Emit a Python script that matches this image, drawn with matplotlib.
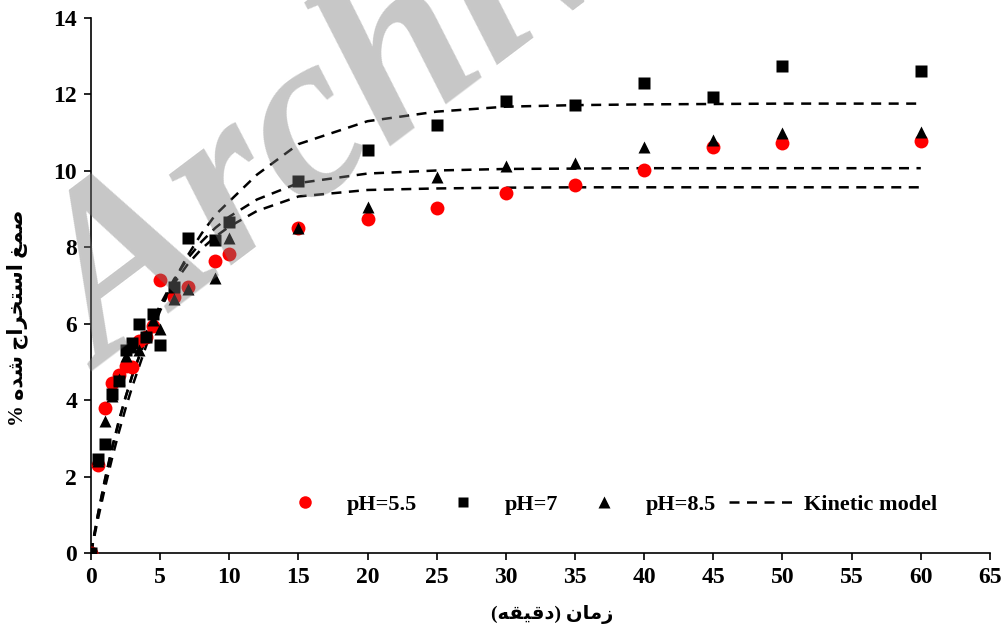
import matplotlib
matplotlib.use('Agg')
import matplotlib.pyplot as plt
from matplotlib.lines import Line2D

plt.rcParams['font.family'] = ['Liberation Serif', 'DejaVu Sans']
plt.rcParams['font.weight'] = 'bold'

# sampling times (min)
t = [0, 0.5, 1, 1.5, 2, 2.5, 3, 3.5, 4, 4.5, 5, 6, 7, 9, 10,
     15, 20, 25, 30, 35, 40, 45, 50, 60]

ph55 = [0, 2.3, 3.8, 4.45, 4.65, 4.9, 4.87, 5.55, 5.65, 5.95, 7.15, 6.7, 6.95, 7.65, 7.82,
        8.5, 8.75, 9.04, 9.42, 9.63, 10.02, 10.63, 10.72, 10.78]
ph7 = [0, 2.45, 2.85, 4.15, 4.5, 5.3, 5.5, 6.0, 5.65, 6.25, 5.45, 6.95, 8.25, 8.2, 8.67,
       9.74, 10.55, 11.2, 11.83, 11.72, 12.31, 11.92, 12.75, 12.62]
ph85 = [0, 2.4, 3.45, 4.1, 4.55, 5.15, 5.4, 5.3, 5.7, 6.1, 5.85, 6.65, 6.9, 7.2, 8.24,
        8.51, 9.06, 9.85, 10.13, 10.21, 10.62, 10.81, 10.99, 11.02]

# kinetic model curves
tm = [0, 0.5, 1, 1.5, 2, 2.5, 3, 4, 5, 6, 7, 8, 9, 10, 12, 15, 20, 25, 30, 35, 40, 45, 50, 60]
model7 = [0, 0.88, 1.69, 2.44, 3.14, 3.78, 4.37, 5.43, 6.34, 7.12, 7.79, 8.36, 8.85, 9.2,
          9.9, 10.7, 11.3, 11.55, 11.68, 11.72, 11.74, 11.75, 11.76, 11.76]
model85 = [0, 0.99, 1.88, 2.69, 3.41, 4.07, 4.66, 5.67, 6.49, 7.16, 7.71, 8.15, 8.51, 8.8,
           9.25, 9.68, 9.93, 10.01, 10.05, 10.06, 10.07, 10.07, 10.07, 10.07]
model55 = [0, 1.01, 1.91, 2.72, 3.44, 4.08, 4.66, 5.64, 6.43, 7.05, 7.56, 7.96, 8.28, 8.54,
           8.95, 9.33, 9.5, 9.54, 9.56, 9.57, 9.57, 9.57, 9.57, 9.57]

# Persian labels in presentation forms (visual order)
xlabel = '(\uFEEA\uFED8\uFEF4\uFED7\uFEA9) \uFEE5\uFE8E\uFEE3\uFEAF'
ylabel = '% \uFEE9\uFEAA\uFEB7 \uFE9D\uFE8D\uFEAE\uFEA8\uFE98\uFEB3\uFE8D \uFECE\uFEE4\uFEBB'

fig = plt.figure(figsize=(10.04, 6.32), dpi=100)
ax = fig.add_axes([0.0906, 0.125, 0.8954, 0.8465])

dash = dict(color='black', lw=1.8, dashes=(4, 3), zorder=2)
ax.plot(tm, model7, **dash)
ax.plot(tm, model85, **dash)
ax.plot(tm, model55, **dash)

ax.plot(t, ph55, 'o', color='#ff0000', ms=10, mec='none', zorder=3)
ax.plot(t, ph7, 's', color='black', ms=8.5, mec='none', zorder=4)
ax.plot(t, ph85, '^', color='black', ms=9, mec='none', zorder=5)

ax.set_xlim(0, 65)
ax.set_ylim(0, 14)
ax.set_xticks(range(0, 66, 5))
ax.set_yticks(range(0, 15, 2))
for s in ['top', 'right']:
    ax.spines[s].set_visible(False)
for s in ['left', 'bottom']:
    ax.spines[s].set_linewidth(1.2)
ax.tick_params(direction='out', length=5, width=1.2, labelsize=17, pad=5)
for lab in ax.get_xticklabels() + ax.get_yticklabels():
    lab.set_fontweight('bold')

ax.set_xlabel(xlabel, fontsize=14, fontweight='bold')
ax.xaxis.set_label_coords(0.513, -0.098)
ax.set_ylabel(ylabel, fontsize=15, fontweight='bold')
ax.yaxis.set_label_coords(-0.07, 0.44)

handles = [
    Line2D([], [], ls='none', marker='o', color='#ff0000', ms=9, mec='none'),
    Line2D([], [], ls='none', marker='s', color='black', ms=7.5, mec='none'),
    Line2D([], [], ls='none', marker='^', color='black', ms=8, mec='none'),
    Line2D([], [], color='black', lw=1.8, dashes=(4, 3)),
]
labels = ['pH=5.5', 'pH=7', 'pH=8.5', 'Kinetic model']
ax.legend(handles, labels, ncol=4, frameon=False, loc='center',
          bbox_to_anchor=(0.571, 0.09), handlelength=3.0, handletextpad=0.4,
          columnspacing=0.55, prop={'size': 16, 'weight': 'bold'})

# watermark
fig.text(0.103, 1 - 371 / 632, 'Archive', fontsize=172, style='italic', fontweight='bold',
         color='#7a7a7a', alpha=0.42, rotation=37, rotation_mode='anchor',
         ha='left', va='baseline', family='Liberation Serif', zorder=10)

fig.savefig('out.png', dpi=100)
